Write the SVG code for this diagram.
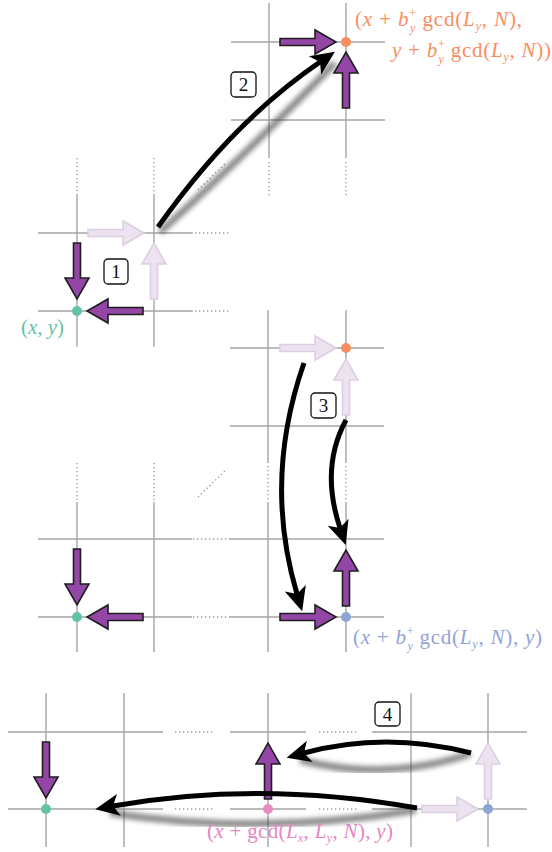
<svg xmlns="http://www.w3.org/2000/svg" width="552" height="852" viewBox="0 0 552 852">
<style>
.g{stroke:#a5a5a5;stroke-width:1.4;fill:none}
.d{stroke:#9a9a9a;stroke-width:1.4;stroke-dasharray:1.3 2.7;fill:none}
.pa{fill:#9446a7;stroke:#1e1e1e;stroke-width:1.6}
.fa{fill:#ece2f0;stroke:#dccfe2;stroke-width:1.6}
.arc{fill:none;stroke:#000;stroke-width:5;marker-end:url(#ah)}
.sh{fill:none;stroke:#3a3a3a;stroke-width:7;opacity:.6;filter:url(#blur)}
.box{fill:#fff;stroke:#111;stroke-width:1.3}
.num{font-family:"Liberation Serif","Times New Roman",serif;font-size:19px;text-anchor:middle;fill:#111}
.lbl{font-family:"Liberation Serif","Times New Roman",serif;font-size:21px}
.i{font-style:italic}
.s{font-size:12px}
</style>
<defs>
<filter id="blur" x="-20%" y="-20%" width="140%" height="140%"><feGaussianBlur stdDeviation="2.8"/></filter>
<marker id="ah" viewBox="0 0 26 24" refX="7" refY="12" markerWidth="26" markerHeight="24" markerUnits="userSpaceOnUse" orient="auto"><path d="M1,1 L25,12 L1,23 L7,12 Z" fill="#000"/></marker>
<path id="fat" d="M0,-3.5 H35 V-12 L56,0 L35,12 V3.5 H0 Z"/>
</defs>

<g id="grid">
<path class="g" d="M38,233H193M38,311H193M77,195V347M154,195V347"/>
<path class="d" d="M195,233H230M195,311H230M77,158V195M154,158V195"/>
<path class="g" d="M231,42H385M231,120H385M269,3V158M346,3V158"/>
<path class="d" d="M269,162V197M346,162V197M198,190L226,163"/>
<path class="g" d="M230,348H384M230,426H384M268,310V463M346,310V463M268,502V652M346,502V652M38,539H192M38,617H192M230,539H384M230,617H384M77,502V652M154,502V652"/>
<path class="d" d="M268,466V500M346,466V500M77,463V500M154,463V500M193,539H230M193,617H230M198,497L226,470"/>
<path class="g" d="M8,732H163M230,732H306M372,732H527M8,809H163M230,809H306M372,809H527M46,693V847M124,693V847M268,693V847M411,693V847M488,693V847"/>
<path class="d" d="M175,732H215M319,732H359M175,809H215M319,809H359"/>
</g>

<g id="shadows">
<path class="sh" d="M160,232 Q240,160 335,63"/>
<path class="sh" d="M304,368 L304,595"/>
<path class="sh" d="M346,428 L346,530"/>
<path class="sh" d="M470,754 Q385,782 300,760"/>
<path class="sh" d="M416,810 Q260,836 110,813"/>
</g>

<g id="moves">
<use href="#fat" class="fa" transform="translate(88,233)"/>
<use href="#fat" class="fa" transform="translate(154,299) rotate(-90)"/>
<use href="#fat" class="pa" transform="translate(77,243) rotate(90)"/>
<use href="#fat" class="pa" transform="translate(143,311) rotate(180)"/>
<use href="#fat" class="pa" transform="translate(280,42)"/>
<use href="#fat" class="pa" transform="translate(346,108) rotate(-90)"/>
<use href="#fat" class="fa" transform="translate(280,348)"/>
<use href="#fat" class="fa" transform="translate(346,415) rotate(-90)"/>
<use href="#fat" class="pa" transform="translate(280,617)"/>
<use href="#fat" class="pa" transform="translate(346,606) rotate(-90)"/>
<use href="#fat" class="pa" transform="translate(77,549) rotate(90)"/>
<use href="#fat" class="pa" transform="translate(143,617) rotate(180)"/>
<use href="#fat" class="pa" transform="translate(46,742) rotate(90)"/>
<use href="#fat" class="pa" transform="translate(268,799) rotate(-90)"/>
<use href="#fat" class="fa" transform="translate(488,799) rotate(-90)"/>
<use href="#fat" class="fa" transform="translate(422,809)"/>
</g>

<g id="connectors">
<path class="arc" d="M158,227 Q232,122 320,62"/>
<path class="arc" d="M304,363 Q263,480 297,594"/>
<path class="arc" d="M346,420 Q320,468 340,528"/>
<path class="arc" d="M471,753 Q385,731 304,753"/>
<path class="arc" d="M417,808 Q260,780 113,806"/>
</g>

<g id="node-start-1"><circle cx="77" cy="311" r="5" fill="#62c4a1"/>
<text class="lbl" x="21" y="334" fill="#62c4a1" textLength="43" lengthAdjust="spacing">(<tspan class="i">x</tspan>, <tspan class="i">y</tspan>)</text></g>
<g id="node-target-1"><circle cx="346" cy="42" r="5" fill="#f88d5d"/>
<text class="lbl" x="355" y="26" fill="#f88d5d" textLength="167" lengthAdjust="spacing">(<tspan class="i">x</tspan> + <tspan class="i">b</tspan><tspan class="s" dy="-9">+</tspan><tspan class="s i" dx="-6.8" dy="15">y</tspan><tspan dy="-6"> gcd(</tspan><tspan class="i">L</tspan><tspan class="s i" dy="4">y</tspan><tspan dy="-4">, </tspan><tspan class="i">N</tspan>),</text>
<text class="lbl" x="392" y="57" fill="#f88d5d" textLength="159" lengthAdjust="spacing"><tspan class="i">y</tspan> + <tspan class="i">b</tspan><tspan class="s" dy="-9">+</tspan><tspan class="s i" dx="-6.8" dy="15">y</tspan><tspan dy="-6"> gcd(</tspan><tspan class="i">L</tspan><tspan class="s i" dy="4">y</tspan><tspan dy="-4">, </tspan><tspan class="i">N</tspan>))</text></g>
<g id="node-target-2"><circle cx="346" cy="348" r="5" fill="#f88d5d"/></g>
<g id="node-start-2"><circle cx="77" cy="617" r="5" fill="#62c4a1"/></g>
<g id="node-mid-1"><circle cx="346" cy="617" r="5" fill="#8fa3d6"/>
<text class="lbl" x="353" y="644" fill="#8fa3d6" textLength="189" lengthAdjust="spacing">(<tspan class="i">x</tspan> + <tspan class="i">b</tspan><tspan class="s" dy="-9">+</tspan><tspan class="s i" dx="-6.8" dy="15">y</tspan><tspan dy="-6"> gcd(</tspan><tspan class="i">L</tspan><tspan class="s i" dy="4">y</tspan><tspan dy="-4">, </tspan><tspan class="i">N</tspan>), <tspan class="i">y</tspan>)</text></g>
<g id="node-start-3"><circle cx="46" cy="809" r="5" fill="#62c4a1"/></g>
<g id="node-mid-2"><circle cx="488" cy="809" r="5" fill="#8fa3d6"/></g>
<g id="node-end"><circle cx="268" cy="809" r="5" fill="#e78ac5"/>
<text class="lbl" x="207" y="838" fill="#e585c2" textLength="186" lengthAdjust="spacing">(<tspan class="i">x</tspan> + gcd(<tspan class="i">L</tspan><tspan class="s i" dy="4">x</tspan><tspan dy="-4">, </tspan><tspan class="i">L</tspan><tspan class="s i" dy="4">y</tspan><tspan dy="-4">, </tspan><tspan class="i">N</tspan>), <tspan class="i">y</tspan>)</text></g>

<g id="step-1"><rect class="box" x="104" y="259" width="24" height="25" rx="4"/><text class="num" x="116" y="278">1</text></g>
<g id="step-2"><rect class="box" x="231" y="72" width="25" height="25" rx="4"/><text class="num" x="243.5" y="91">2</text></g>
<g id="step-3"><rect class="box" x="311" y="393" width="25" height="25" rx="4"/><text class="num" x="323.5" y="412">3</text></g>
<g id="step-4"><rect class="box" x="375" y="702" width="25" height="24" rx="4"/><text class="num" x="387.5" y="720.5">4</text></g>
</svg>
